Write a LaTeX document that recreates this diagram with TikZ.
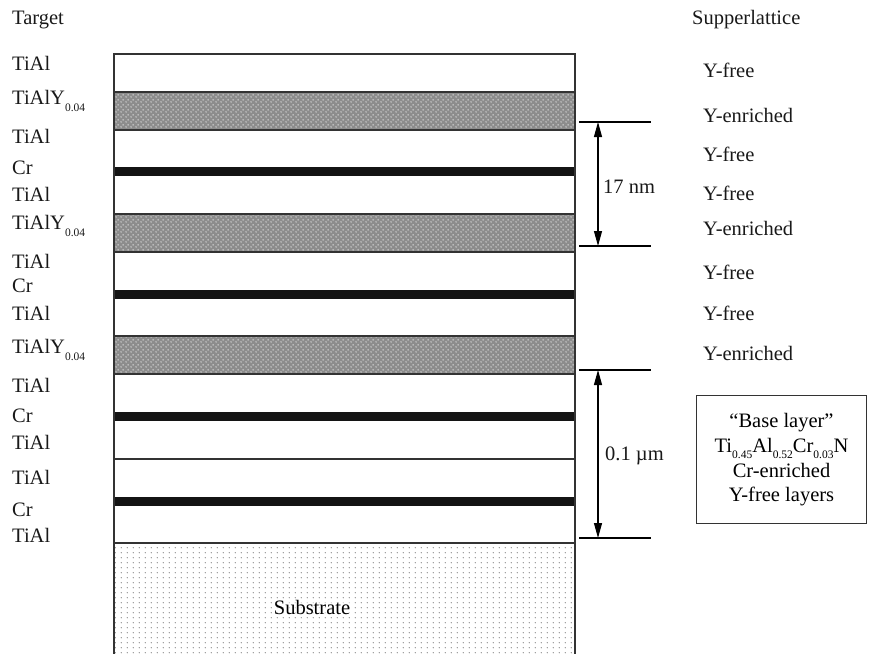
\documentclass[tikz,border=0pt]{standalone}
\usepackage{fontspec}
\setmainfont{Liberation Serif}
\usetikzlibrary{patterns,arrows.meta}
\newcommand\sbs[1]{\raisebox{-0.3em}{\fontsize{11.5}{12}\selectfont #1}}
\pgfdeclarepatternformonly{subdots}{\pgfpointorigin}{\pgfpoint{6pt}{5pt}}{\pgfpoint{6pt}{5pt}}{%
  \pgfpathcircle{\pgfpoint{1.5pt}{1.5pt}}{0.75pt}\pgfusepath{fill}}
\pgfdeclarepatternformonly{ydots}{\pgfpointorigin}{\pgfpoint{5pt}{5pt}}{\pgfpoint{5pt}{5pt}}{%
  \pgfpathcircle{\pgfpoint{1.25pt}{1.25pt}}{1.0pt}\pgfpathcircle{\pgfpoint{3.75pt}{3.75pt}}{1.0pt}\pgfusepath{fill}}
\begin{document}
\begin{tikzpicture}[x=1pt,y=-1pt,
  font=\fontsize{20.5}{24}\selectfont,
  lbl/.style={anchor=west, inner sep=0pt, text=black!90},
  edge/.style={line width=1.6pt, draw=black!80},
  plainlayer/.style={fill=white, inner sep=0pt, outer sep=0pt, minimum width=461pt},
  ylayer/.style={fill=black!45, inner sep=0pt, outer sep=0pt, minimum width=461pt,
     postaction={pattern=ydots, pattern color=white!80!black}},
  crbar/.style={fill=black!92, inner sep=0pt, outer sep=0pt, minimum width=461pt, minimum height=9pt},
  substlayer/.style={fill=white, inner sep=0pt, outer sep=0pt, minimum width=461pt,
     postaction={pattern=subdots, pattern color=black!50}},
  dimline/.style={line width=1.3pt, draw=black},
  dimarrow/.style={line width=1.1pt, draw=black, {Triangle[width=8pt,length=15pt]}-{Triangle[width=8pt,length=15pt]}},
  infobox/.style={draw=black!80, line width=1.3pt, minimum width=170pt, minimum height=128pt, align=center, inner sep=0pt, font=\fontsize{20.5}{24.5}\selectfont}
]
\useasboundingbox (0,0) rectangle (869,653);
\fill[white] (0,0) rectangle (869,653);

% layers
\node[plainlayer, minimum height=38pt] (l1) at (344.5,73) {};
\node[ylayer, minimum height=38pt] (y1) at (344.5,111) {};
\node[plainlayer, minimum height=84pt] (l2) at (344.5,172) {};
\node[crbar] (c1) at (344.5,171.5) {};
\node[ylayer, minimum height=38pt] (y2) at (344.5,233) {};
\node[plainlayer, minimum height=84pt] (l3) at (344.5,294) {};
\node[crbar] (c2) at (344.5,294.5) {};
\node[ylayer, minimum height=38pt] (y3) at (344.5,355) {};
\node[plainlayer, minimum height=85pt] (l4) at (344.5,416.5) {};
\node[crbar] (c3) at (344.5,416.5) {};
\node[plainlayer, minimum height=85pt] (l5) at (344.5,501.5) {};
\node[crbar] (c4) at (344.5,501.5) {};
\node[substlayer, minimum height=111pt] (sub) at (344.5,598.5) {};
\node[fill=white, fill opacity=0.6, text opacity=1, inner sep=1pt] at (312,607) {Substrate};

% separator lines
\foreach \n in {y1,y2,y3} {
  \draw[edge] (\n.north west) -- (\n.north east);
  \draw[edge] (\n.south west) -- (\n.south east);
}
\draw[edge] (l5.north west) -- (l5.north east);
\draw[edge] (sub.north west) -- (sub.north east);
\draw[edge] (sub.south west) -- (l1.north west) -- (l1.north east) -- (sub.south east);

% left labels
\node[lbl] (tg) at (12,20) {Target};
\node[lbl] at (12,63) {TiAl};
\node[lbl] at (12,101) {TiAlY\sbs{0.04}};
\node[lbl] at (12,136) {TiAl};
\node[lbl] at (12,168) {Cr};
\node[lbl] at (12,194) {TiAl};
\node[lbl] at (12,226) {TiAlY\sbs{0.04}};
\node[lbl] at (12,261) {TiAl};
\node[lbl] at (12,286) {Cr};
\node[lbl] at (12,313) {TiAl};
\node[lbl] at (12,350) {TiAlY\sbs{0.04}};
\node[lbl] at (12,385) {TiAl};
\node[lbl] at (12,416) {Cr};
\node[lbl] at (12,442) {TiAl};
\node[lbl] at (12,477) {TiAl};
\node[lbl] at (12,510) {Cr};
\node[lbl] at (12,535) {TiAl};

% right labels
\node[lbl] (sl) at (692,20) {Supperlattice};
\node[lbl] at (703,70) {Y-free};
\node[lbl] at (703,115) {Y-enriched};
\node[lbl] at (703,154) {Y-free};
\node[lbl] at (703,193) {Y-free};
\node[lbl] at (703,228) {Y-enriched};
\node[lbl] at (703,272) {Y-free};
\node[lbl] at (703,313) {Y-free};
\node[lbl] at (703,353) {Y-enriched};

% dimension 17 nm
\coordinate (a1) at (579,122);
\coordinate (a2) at (651,122);
\coordinate (b1) at (579,246);
\coordinate (b2) at (651,246);
\coordinate (ta) at (598,122);
\coordinate (tb) at (598,246);
\draw[dimline] (a1) -- (a2);
\draw[dimline] (b1) -- (b2);
\draw[dimarrow] (ta) -- (tb);
\node[lbl] at (603,187) {17 nm};

% dimension 0.1 um
\coordinate (c1a) at (579,370);
\coordinate (c1b) at (651,370);
\coordinate (d1a) at (579,538);
\coordinate (d1b) at (651,538);
\coordinate (ua) at (598,370);
\coordinate (ub) at (598,538);
\draw[dimline] (c1a) -- (c1b);
\draw[dimline] (d1a) -- (d1b);
\draw[dimarrow] (ua) -- (ub);
\node[lbl] at (605,456) {0.1 µm};

% info box
\node[infobox] (box) at (781.5,459.5) {“Base layer”\\[0.5pt]Ti\sbs{0.45}Al\sbs{0.52}Cr\sbs{0.03}N\\[0.5pt]Cr-enriched\\Y-free layers};
\end{tikzpicture}
\end{document}
